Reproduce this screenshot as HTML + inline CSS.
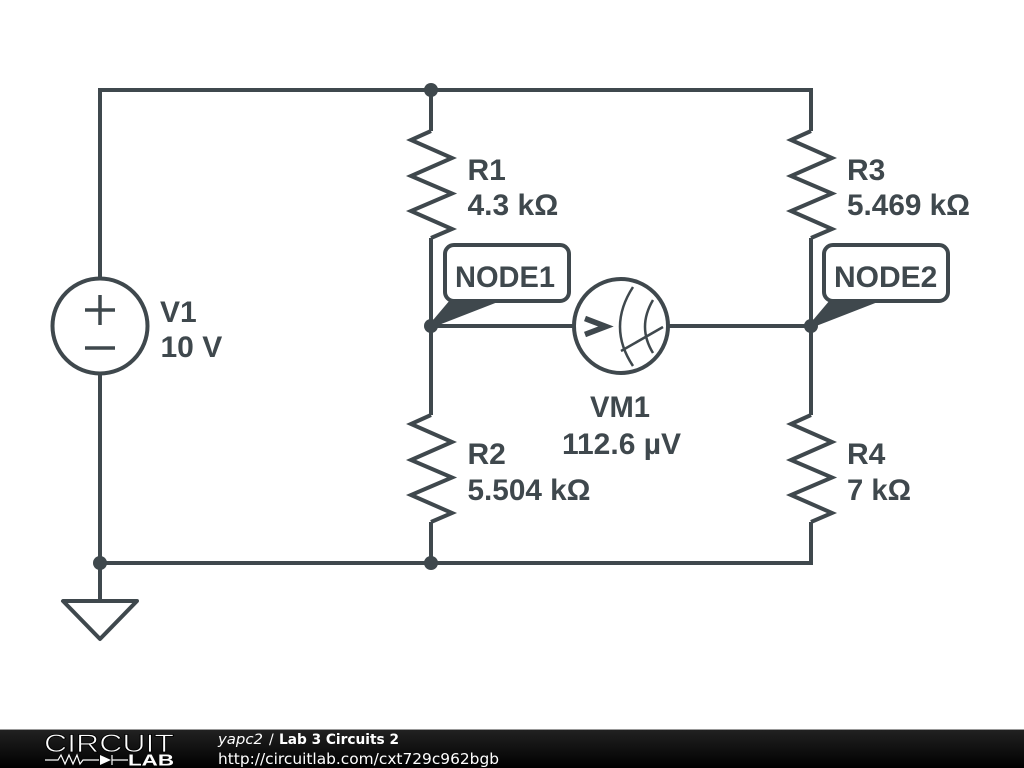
<!DOCTYPE html>
<html><head><meta charset="utf-8"><style>
html,body{margin:0;padding:0;background:#fff;width:1024px;height:768px;overflow:hidden}
svg{display:block}
.l{font-family:"Liberation Sans",sans-serif;font-weight:bold;font-size:30px;fill:#3f484d}
.f{font-family:"DejaVu Sans",sans-serif;font-size:14px;fill:#fff}
</style></head><body>
<svg width="1024" height="768" viewBox="0 0 1024 768" xmlns="http://www.w3.org/2000/svg">
<defs><linearGradient id="g" x1="0" y1="0" x2="0" y2="1"><stop offset="0" stop-color="#222"/><stop offset="1" stop-color="#000"/></linearGradient></defs>
<g fill="none" stroke="#3f484d" stroke-width="4" stroke-linejoin="miter" stroke-linecap="butt">
<path d="M100 278V90H811V131M431 90V131M100 374V563H811V522M431 563V522M100 563V601"/>
<path d="M431 238V415M811 238V415M431 326H573M669 326H811"/>
<path d="M431 131L411 140L452 158L411 176L452 193.5L411 211L452 229L431 238"/>
<path d="M811 131L791 140L832 158L791 176L832 193.5L791 211L832 229L811 238"/>
<path d="M431 415L411 424L452 442L411 460L452 477.5L411 495L452 513L431 522"/>
<path d="M811 415L791 424L832 442L791 460L832 477.5L791 495L832 513L811 522"/>
<circle cx="100" cy="326" r="47.5"/>
<path d="M85 310H115M100 295V325M85 348H115" stroke-width="3.5"/>
<circle cx="621" cy="326" r="47"/>
<path d="M585 318.5L606 326.5L585 334.5" stroke-width="5.5"/>
<path d="M633 287Q607 327 633 366M653 300Q637 327 653 353M621 351L663 327" stroke-width="2.5"/>
<path d="M63 601H137L100 639Z" stroke-linejoin="round"/>
<rect x="445" y="245" width="124" height="56" rx="9" fill="#fff"/>
<rect x="824" y="245" width="124" height="56" rx="9" fill="#fff"/>
</g>
<g fill="#3f484d">
<path d="M428 326L450 300H503L431 328Z"/>
<path d="M808 326L830 300H883L811 328Z"/>
<circle cx="431" cy="90" r="7"/><circle cx="431" cy="326" r="7"/><circle cx="811" cy="326" r="7"/>
<circle cx="100" cy="563" r="7"/><circle cx="431" cy="563" r="7"/>
</g>
<text class="l" x="467.5" y="180">R1</text><text class="l" x="467.5" y="215">4.3 kΩ</text>
<text class="l" x="847" y="180">R3</text><text class="l" x="847" y="215" textLength="123" lengthAdjust="spacingAndGlyphs">5.469 kΩ</text>
<text class="l" x="467.5" y="464">R2</text><text class="l" x="467.5" y="500" textLength="123" lengthAdjust="spacingAndGlyphs">5.504 kΩ</text>
<text class="l" x="847" y="464">R4</text><text class="l" x="847" y="500" textLength="64" lengthAdjust="spacingAndGlyphs">7 kΩ</text>
<text class="l" x="160" y="322">V1</text><text class="l" x="160.5" y="357">10 V</text>
<text class="l" x="590" y="417" textLength="60" lengthAdjust="spacingAndGlyphs">VM1</text><text class="l" x="621.5" y="454" text-anchor="middle">112.6 µV</text>
<text class="l" x="455" y="287" textLength="100" lengthAdjust="spacingAndGlyphs">NODE1</text><text class="l" x="834" y="287">NODE2</text>
<rect x="0" y="729" width="1024" height="39" fill="url(#g)"/>
<rect x="0" y="729" width="1024" height="1" fill="#999"/>
<text x="44" y="752" font-family="'Liberation Sans',sans-serif" font-size="25" fill="#fff" stroke="#000" stroke-width="0.8" textLength="130" lengthAdjust="spacingAndGlyphs">CIRCUIT</text>
<path d="M45 760H58L61 755L65 764L69 755L73 764L77 755L80 764L83 760H99M112 760H128M112 755V765" stroke="#fff" stroke-width="1.2" fill="none"/>
<path d="M100 755L111 760L100 765Z" fill="#fff"/>
<text x="128" y="765.5" font-family="'Liberation Sans',sans-serif" font-weight="bold" font-size="16" fill="#fff" textLength="46" lengthAdjust="spacingAndGlyphs">LAB</text>
<text class="f" x="218" y="744" font-style="italic" textLength="45" lengthAdjust="spacingAndGlyphs">yapc2</text>
<text class="f" x="269" y="744">/</text>
<text class="f" x="279" y="744" font-weight="bold" textLength="120" lengthAdjust="spacingAndGlyphs">Lab 3 Circuits 2</text>
<text class="f" x="218" y="764" style="font-size:15px" textLength="281" lengthAdjust="spacingAndGlyphs">http://circuitlab.com/cxt729c962bgb</text>
</svg>
</body></html>
